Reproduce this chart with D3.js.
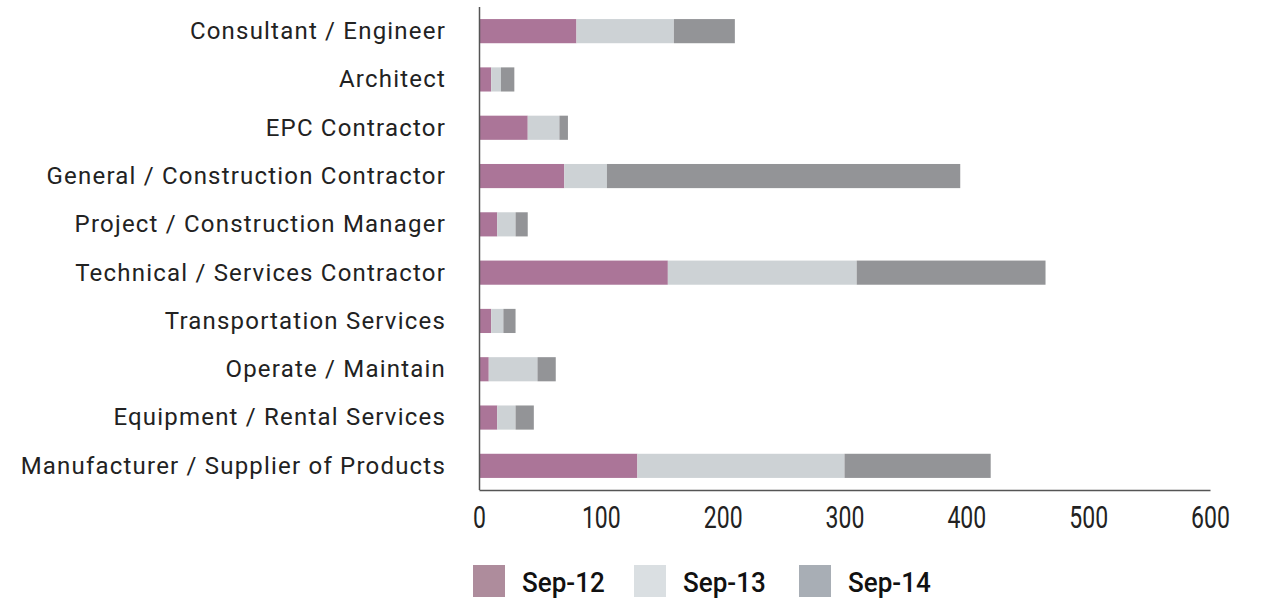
<!DOCTYPE html>
<html>
<head>
<meta charset="utf-8">
<script src="https://cdn.jsdelivr.net/npm/d3@7"></script>
<style>
  html, body { margin: 0; padding: 0; background: #fff; }
  svg { display: block; }
  .cat { font-family: Roboto, "DejaVu Sans", sans-serif; font-size: 24px; letter-spacing: 1.2px; fill: #222; }
  .tick text { font-family: Roboto, "DejaVu Sans", sans-serif; fill: #222; }
  .leg { font-family: Roboto, "DejaVu Sans", sans-serif; font-size: 28px; fill: #111; font-weight: 500; }
</style>
</head>
<body>
<svg id="chart" width="1261" height="601"></svg>
<script>
// Respondent categories, top to bottom
const categories = [
  "Consultant / Engineer",
  "Architect",
  "EPC Contractor",
  "General / Construction Contractor",
  "Project / Construction Manager",
  "Technical / Services Contractor",
  "Transportation Services",
  "Operate / Maintain",
  "Equipment / Rental Services",
  "Manufacturer / Supplier of Products"
];

const seriesNames = ["Sep-12", "Sep-13", "Sep-14"];

const sep12 = [80, 10, 40, 70, 15, 155, 10, 8, 15, 130];
const sep13 = [80, 8, 26, 35, 15, 155, 10, 40, 15, 170];
const sep14 = [50, 11, 7, 290, 10, 155, 10, 15, 15, 120];

const xTicks = [0, 100, 200, 300, 400, 500, 600];

const barColors = ["#ab7598", "#cdd2d5", "#939497"];
const legendColors = ["#ae8c9c", "#dadfe2", "#a8aeb5"];

const rows = categories.map((c, i) => ({
  category: c,
  "Sep-12": sep12[i],
  "Sep-13": sep13[i],
  "Sep-14": sep14[i]
}));

const svg = d3.select("#chart");

const x = d3.scaleLinear().domain([0, 600]).range([479, 1210]);
const y = d3.scaleBand().domain(categories).range([7, 490]).paddingInner(0.5).paddingOuter(0.25);

const stacked = d3.stack().keys(seriesNames)(rows);

svg.append("g")
  .selectAll("g")
  .data(stacked)
  .join("g")
  .attr("fill", (d, i) => barColors[i])
  .selectAll("rect")
  .data(d => d)
  .join("rect")
  .attr("x", d => x(d[0]))
  .attr("y", d => y(d.data.category))
  .attr("width", d => x(d[1]) - x(d[0]))
  .attr("height", y.bandwidth());

// Category labels
svg.append("g")
  .selectAll("text")
  .data(categories)
  .join("text")
  .attr("class", "cat")
  .attr("x", 446)
  .attr("y", d => y(d) + y.bandwidth() / 2)
  .attr("dy", "0.33em")
  .attr("text-anchor", "end")
  .text(d => d);

// Vertical baseline
svg.append("line")
  .attr("x1", 479.5).attr("x2", 479.5)
  .attr("y1", 7).attr("y2", 490)
  .attr("stroke", "#555").attr("stroke-width", 1.5);

// Value axis with narrow tick numerals
const xAxis = d3.axisBottom(x).tickValues(xTicks).tickSize(0);
const gx = svg.append("g")
  .attr("transform", "translate(0,490)")
  .call(xAxis);
gx.select(".domain").attr("stroke", "#555").attr("stroke-width", 1.5);
gx.selectAll(".tick text")
  .attr("font-size", 32)
  .attr("font-family", null)
  .attr("y", 38)
  .attr("dy", 0)
  .attr("transform", "scale(0.72,1)");

// Legend
const legX = [473, 634, 799];
const leg = svg.append("g");
seriesNames.forEach((s, i) => {
  leg.append("rect")
    .attr("x", legX[i]).attr("y", 565)
    .attr("width", 32).attr("height", 32)
    .attr("fill", legendColors[i]);
  leg.append("text")
    .attr("class", "leg")
    .attr("x", 0).attr("y", 0)
    .attr("transform", `translate(${legX[i] + 49},592) scale(0.93,1)`)
    .text(s);
});
</script>
</body>
</html>
